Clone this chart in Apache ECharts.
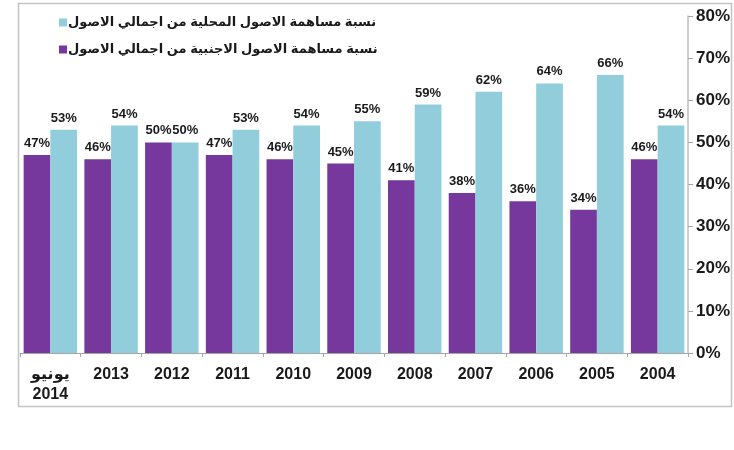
<!DOCTYPE html>
<html>
<head>
<meta charset="utf-8">
<script src="https://cdn.jsdelivr.net/npm/echarts@6/dist/echarts.min.js"></script>
<style>
  html, body { margin: 0; padding: 0; background: #fff; }
  #main { width: 734px; height: 450px; }
</style>
</head>
<body>
<div id="main"></div>
<script>
var years = ['يونيو\n2014', '2013', '2012', '2011', '2010', '2009', '2008', '2007', '2006', '2005', '2004'];
var foreignShare = [47, 46, 50, 47, 46, 45, 41, 38, 36, 34, 46];
var localShare = [53, 54, 50, 53, 54, 55, 59, 62, 64, 66, 54];
var yTicks = [0, 10, 20, 30, 40, 50, 60, 70, 80];

var localName = 'نسبة مساهمة الاصول المحلية من اجمالي الاصول';
var foreignName = 'نسبة مساهمة الاصول الاجنبية من اجمالي الاصول';
var font = 'Liberation Sans, Arial, DejaVu Sans, sans-serif';

var myChart = echarts.init(document.getElementById('main'));
var option = {
  animation: false,
  textStyle: { fontFamily: font },
  graphic: [{
    type: 'rect',
    shape: { x: 18.5, y: 3.5, width: 713, height: 403 },
    style: { fill: 'none', stroke: '#c4c4c4', lineWidth: 1.5 },
    z: -1
  }],
  legend: {
    data: [localName, foreignName],
    orient: 'vertical',
    left: 54,
    top: 11,
    itemWidth: 8,
    itemHeight: 8,
    itemGap: 14,
    icon: 'rect',
    textStyle: { fontSize: 13, fontWeight: 'bold', color: '#1a1a1a', fontFamily: font, padding: [0, 0, 0, -4] }
  },
  grid: { left: 20, right: 46, top: 16, bottom: 97, containLabel: false },
  xAxis: {
    type: 'category',
    data: years,
    axisLine: { lineStyle: { color: '#a6a6a6', width: 1 } },
    axisTick: { show: true, length: 4, lineStyle: { color: '#a6a6a6' } },
    axisLabel: { fontSize: 16, fontWeight: 'bold', color: '#1a1a1a', margin: 12, lineHeight: 20 }
  },
  yAxis: {
    type: 'value',
    position: 'right',
    min: 0,
    max: 80,
    interval: 10,
    splitLine: { show: false },
    axisLine: { show: true, lineStyle: { color: '#bfbfbf', width: 1.5 } },
    axisTick: { show: true, length: 5, lineStyle: { color: '#a6a6a6' } },
    axisLabel: {
      fontSize: 17, fontWeight: 'bold', color: '#1a1a1a', margin: 8,
      formatter: function (v) { return yTicks.indexOf(v) >= 0 ? v + '%' : ''; }
    }
  },
  series: [
    {
      name: foreignName,
      type: 'bar',
      data: foreignShare,
      barGap: '0%',
      barCategoryGap: '12%',
      itemStyle: { color: '#76389c' },
      label: { show: true, position: 'top', distance: 5, formatter: '{c}%', fontSize: 13, fontWeight: 'bold', color: '#1a1a1a' }
    },
    {
      name: localName,
      type: 'bar',
      data: localShare,
      barGap: '0%',
      barCategoryGap: '12%',
      itemStyle: { color: '#92cddc' },
      label: { show: true, position: 'top', distance: 5, formatter: '{c}%', fontSize: 13, fontWeight: 'bold', color: '#1a1a1a' }
    }
  ]
};
myChart.setOption(option);
</script>
</body>
</html>
